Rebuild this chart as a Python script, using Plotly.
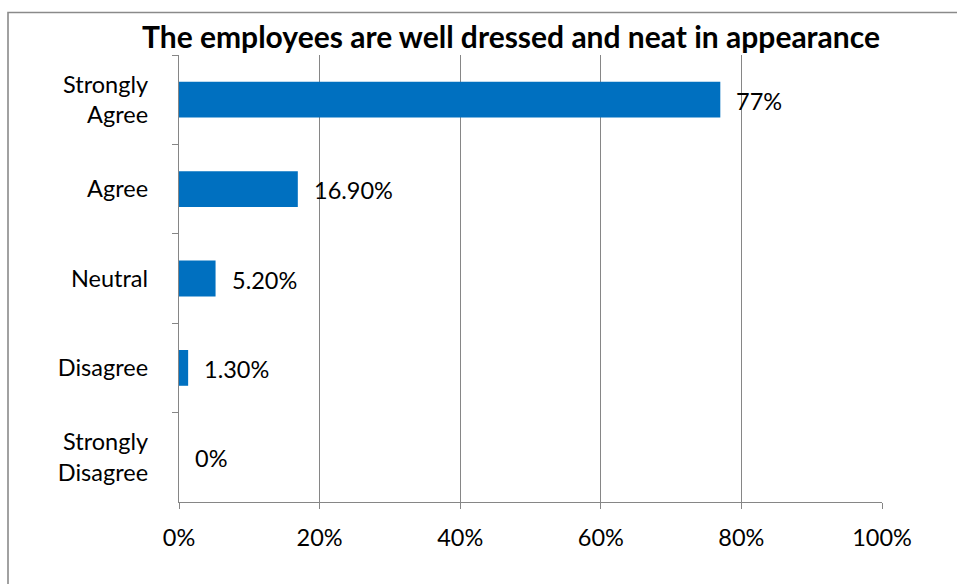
import plotly.graph_objects as go

categories = ["Strongly<br>Agree", "Agree", "Neutral", "Disagree", "Strongly<br>Disagree"]
values = [77, 16.9, 5.2, 1.3, 0]
value_labels = ["77%", "16.90%", "5.20%", "1.30%", "0%"]
x_ticks = [0, 20, 40, 60, 80, 100]
x_tick_labels = ["0%", "20%", "40%", "60%", "80%", "100%"]

W, H = 957, 584
L, R, T, B = 179, 75, 55, 82
pw, ph = W - L - R, H - T - B

FONT = "Lato"
TEXT_SIZE = 23.5
AXIS_GREY = "#868686"

fig = go.Figure()
fig.add_trace(go.Bar(
    x=values,
    y=categories,
    orientation="h",
    marker=dict(color="#0070C0", line=dict(width=0)),
    hoverinfo="skip",
))

# value labels placed just right of each bar end
for cat, v, lab in zip(categories, values, value_labels):
    fig.add_annotation(
        x=v, y=cat, xref="x", yref="y",
        text=lab, showarrow=False,
        xanchor="left", yanchor="middle", xshift=14, yshift=-1,
        font=dict(family=FONT, size=TEXT_SIZE, color="#000000"),
    )

# outer chart border (top/left edges visible, right/bottom run off the page)
def px_to_paper_x(px):
    return (px - L) / pw

def px_to_paper_y(py):
    return (H - B - py) / ph

fig.add_shape(
    type="rect", xref="paper", yref="paper",
    x0=px_to_paper_x(8), x1=px_to_paper_x(W + 4),
    y0=px_to_paper_y(H + 4), y1=px_to_paper_y(12.5),
    line=dict(color="#8a8a8a", width=1.6),
    fillcolor="rgba(0,0,0,0)", layer="above",
)

fig.update_layout(
    width=W, height=H,
    margin=dict(l=L, r=R, t=T, b=B),
    paper_bgcolor="white", plot_bgcolor="white",
    showlegend=False,
    bargap=0.6,
    title=dict(
        text="<b>The employees are well dressed and neat in appearance</b>",
        x=(511) / W, xanchor="center",
        y=1 - 37 / H, yanchor="middle",
        font=dict(family=FONT, size=30, color="#000000"),
    ),
    xaxis=dict(
        range=[0, 100],
        tickvals=x_ticks, ticktext=x_tick_labels,
        showgrid=True, gridcolor=AXIS_GREY, gridwidth=1.4,
        showline=True, linecolor=AXIS_GREY, linewidth=1.4,
        ticks="outside", ticklen=6, tickcolor=AXIS_GREY, tickwidth=1.4,
        ticklabelstandoff=9,
        zeroline=False,
        tickfont=dict(family=FONT, size=TEXT_SIZE, color="#000000"),
        fixedrange=True,
    ),
    yaxis=dict(
        autorange="reversed",
        showgrid=False,
        showline=True, linecolor=AXIS_GREY, linewidth=1.4,
        ticks="outside", ticklen=6, tickcolor=AXIS_GREY, tickwidth=1.4,
        tickson="boundaries",
        ticklabelstandoff=25,
        tickfont=dict(family=FONT, size=TEXT_SIZE, color="#000000"),
        fixedrange=True,
    ),
)

fig.write_html("out.html")
